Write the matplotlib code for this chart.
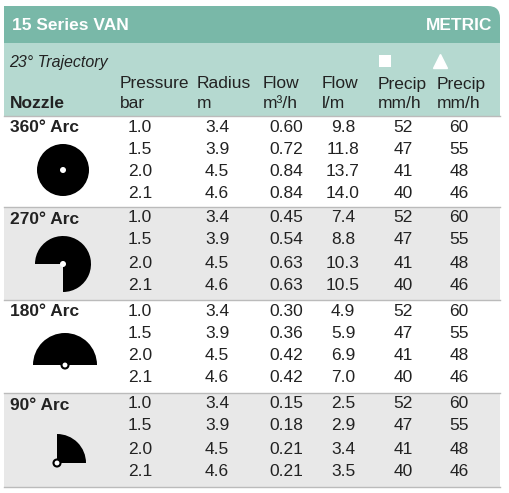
import matplotlib.pyplot as plt
from matplotlib.patches import Rectangle, Wedge, Circle, FancyBboxPatch

title = "15 Series VAN"
unit_label = "METRIC"
trajectory = "23° Trajectory"
arcs = ["360° Arc", "270° Arc", "180° Arc", "90° Arc"]
pressure = [1.0, 1.5, 2.0, 2.1]
radius = [3.4, 3.9, 4.5, 4.6]
flow_m3h = [[0.60, 0.72, 0.84, 0.84],
            [0.45, 0.54, 0.63, 0.63],
            [0.30, 0.36, 0.42, 0.42],
            [0.15, 0.18, 0.21, 0.21]]
flow_lm = [[9.8, 11.8, 13.7, 14.0],
           [7.4, 8.8, 10.3, 10.5],
           [4.9, 5.9, 6.9, 7.0],
           [2.5, 2.9, 3.4, 3.5]]
precip_sq = [52, 47, 41, 40]
precip_tri = [60, 55, 48, 46]

plt.rcParams['font.family'] = ['Liberation Sans', 'DejaVu Sans']
fig = plt.figure(figsize=(5.09, 4.93), dpi=100)
ax = fig.add_axes([0, 0, 1, 1])
ax.set_xlim(0, 509)
ax.set_ylim(493, 0)
ax.axis('off')

dark = '#79b8a8'
light = '#b5d9d0'
grey = '#e8e8e8'
fs = 11.5

# header bands
ax.add_patch(FancyBboxPatch((4, 6), 496, 50, boxstyle="round,pad=0,rounding_size=12",
                            fc=dark, ec='none'))
ax.add_patch(Rectangle((4, 6), 20, 37, fc=dark, ec='none'))
ax.add_patch(Rectangle((4, 43), 496, 73, fc=light, ec='none'))
ax.text(12, 25, title, color='white', fontsize=12.5, fontweight='bold', va='center')
ax.text(492, 25, unit_label, color='white', fontsize=12.5, fontweight='bold', va='center', ha='right')
ax.text(9, 62, trajectory, fontsize=fs, style='italic', va='center', color='#222')
ax.add_patch(Rectangle((379, 55), 12, 12, fc='white', ec='none'))
ax.plot([440], [61], marker='^', ms=10, color='white')

hx = [120, 197, 263, 322, 378, 437]
top = ["Pressure", "Radius", "Flow", "Flow", "Precip", "Precip"]
bot = ["bar", "m", "m³/h", "l/m", "mm/h", "mm/h"]
for x, t, b in zip(hx, top, bot):
    ax.text(x, 84, t, fontsize=fs + 1, va='center', color='#222')
    ax.text(x, 104, b, fontsize=fs + 1, va='center', color='#222')
ax.text(10, 104, "Nozzle", fontsize=fs + 1, fontweight='bold', va='center', color='#222')

group_top = [116, 207, 300, 393]
group_h = [91, 93, 93, 94]
row_off = [11, 33, 56, 78]
cx = [140, 217, 286, 343, 403, 459]
for g in range(4):
    y0 = group_top[g]
    fc = grey if g % 2 else 'white'
    ax.add_patch(Rectangle((4, y0), 496, group_h[g], fc=fc, ec='none'))
    ax.plot([4, 500], [y0, y0], color='#bbbbbb', lw=1)
    ax.text(10, y0 + 12, arcs[g], fontsize=fs + 1, fontweight='bold', va='center', color='#222')
    for i in range(4):
        y = y0 + row_off[i]
        vals = [f"{pressure[i]:.1f}", f"{radius[i]:.1f}", f"{flow_m3h[g][i]:.2f}",
                f"{flow_lm[g][i]:.1f}", f"{precip_sq[i]}", f"{precip_tri[i]}"]
        for x, v in zip(cx, vals):
            ax.text(x, y, v, fontsize=fs + 1, va='center', ha='center', color='#222')
ax.plot([4, 500], [487, 487], color='#bbbbbb', lw=1)

# nozzle icons (y axis inverted: data angle = -visual angle)
ax.add_patch(Circle((63, 170), 26, fc='black'))
ax.add_patch(Circle((63, 170), 3, fc='white'))
ax.add_patch(Wedge((63, 264), 28, 180, 450, fc='black'))
ax.add_patch(Circle((63, 264), 3, fc='white'))
ax.add_patch(Wedge((65, 365), 32, 180, 360, fc='black'))
ax.add_patch(Circle((65, 365), 3.5, fc='white', ec='black', lw=1.5))
ax.add_patch(Wedge((57, 463), 29, 270, 360, fc='black'))
ax.add_patch(Circle((57, 463), 3.5, fc='white', ec='black', lw=1.5))

fig.savefig('out.png', dpi=100)
